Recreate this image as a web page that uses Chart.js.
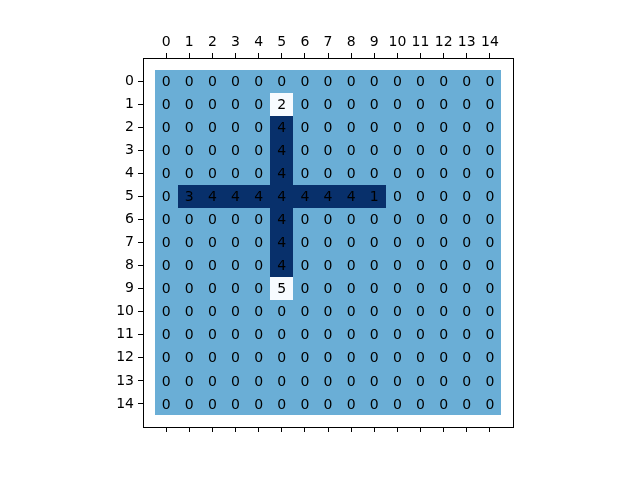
<!DOCTYPE html>
<html lang="en">
  <head>
    <meta charset="utf-8" />
    <title>Matrix</title>
    <style>
      * {
        margin: 0;
        padding: 0;
      }
      body {
        background: white;
      }
      .chartBox {
        width: 640px;
        height: 480px;
      }
    </style>
  </head>
  <body>
    <div class="chartBox">
      <canvas id="myChart" width="640" height="480"></canvas>
    </div>
    <script src="https://cdn.jsdelivr.net/npm/chart.js"></script>
    <script>
      // setup
      const colLabels = ['0', '1', '2', '3', '4', '5', '6', '7', '8', '9', '10', '11', '12', '13', '14'];
      const rowLabels = ['0', '1', '2', '3', '4', '5', '6', '7', '8', '9', '10', '11', '12', '13', '14'];
      const grid = [
        [0, 0, 0, 0, 0, 0, 0, 0, 0, 0, 0, 0, 0, 0, 0],
        [0, 0, 0, 0, 0, 2, 0, 0, 0, 0, 0, 0, 0, 0, 0],
        [0, 0, 0, 0, 0, 4, 0, 0, 0, 0, 0, 0, 0, 0, 0],
        [0, 0, 0, 0, 0, 4, 0, 0, 0, 0, 0, 0, 0, 0, 0],
        [0, 0, 0, 0, 0, 4, 0, 0, 0, 0, 0, 0, 0, 0, 0],
        [0, 3, 4, 4, 4, 4, 4, 4, 4, 1, 0, 0, 0, 0, 0],
        [0, 0, 0, 0, 0, 4, 0, 0, 0, 0, 0, 0, 0, 0, 0],
        [0, 0, 0, 0, 0, 4, 0, 0, 0, 0, 0, 0, 0, 0, 0],
        [0, 0, 0, 0, 0, 4, 0, 0, 0, 0, 0, 0, 0, 0, 0],
        [0, 0, 0, 0, 0, 5, 0, 0, 0, 0, 0, 0, 0, 0, 0],
        [0, 0, 0, 0, 0, 0, 0, 0, 0, 0, 0, 0, 0, 0, 0],
        [0, 0, 0, 0, 0, 0, 0, 0, 0, 0, 0, 0, 0, 0, 0],
        [0, 0, 0, 0, 0, 0, 0, 0, 0, 0, 0, 0, 0, 0, 0],
        [0, 0, 0, 0, 0, 0, 0, 0, 0, 0, 0, 0, 0, 0, 0],
        [0, 0, 0, 0, 0, 0, 0, 0, 0, 0, 0, 0, 0, 0, 0],
      ];

      // colour for each cell value (Blues-like)
      const cellColor = {
        0: '#6aaed6',
        1: '#08306b',
        2: '#f7fbff',
        3: '#08306b',
        4: '#08306b',
        5: '#f7fbff',
      };

      const points = [];
      grid.forEach((row, r) => {
        row.forEach((v, c) => {
          points.push({ x: c, y: r, v: v });
        });
      });

      const FONT = 'DejaVu Sans';

      // cells + numbers + frame
      const matrixPlugin = {
        id: 'matrixPlugin',
        beforeDatasetsDraw(chart) {
          const { ctx, scales: { x, y }, chartArea } = chart;
          ctx.save();
          chart.data.datasets[0].data.forEach((p) => {
            // round edges so neighbouring cells don't leave seams
            const x0 = Math.round(x.getPixelForValue(p.x - 0.5));
            const x1 = Math.round(x.getPixelForValue(p.x + 0.5));
            const y0 = Math.round(y.getPixelForValue(p.y - 0.5));
            const y1 = Math.round(y.getPixelForValue(p.y + 0.5));
            ctx.fillStyle = cellColor[p.v];
            ctx.fillRect(x0, y0, x1 - x0, y1 - y0);
          });
          ctx.fillStyle = 'black';
          ctx.font = '14px "' + FONT + '"';
          ctx.textAlign = 'center';
          ctx.textBaseline = 'middle';
          chart.data.datasets[0].data.forEach((p) => {
            ctx.fillText(String(p.v), x.getPixelForValue(p.x), y.getPixelForValue(p.y) + 1);
          });
          // frame
          ctx.strokeStyle = 'black';
          ctx.lineWidth = 1;
          ctx.strokeRect(
            Math.round(chartArea.left) + 0.5,
            Math.round(chartArea.top) + 0.5,
            Math.round(chartArea.right - chartArea.left),
            Math.round(chartArea.bottom - chartArea.top)
          );
          ctx.restore();
        },
      };

      const keepInner = (scale) => {
        scale.ticks = scale.ticks.filter((t) => t.value >= 0 && t.value <= 14);
      };

      const tickFont = { family: FONT, size: 14 };

      const config = {
        type: 'scatter',
        data: {
          datasets: [
            {
              data: points,
              pointRadius: 0,
              pointHoverRadius: 0,
            },
          ],
        },
        options: {
          responsive: false,
          animation: false,
          layout: {
            padding: { left: 0, right: 127, top: 0, bottom: 0 },
          },
          plugins: {
            legend: { display: false },
            tooltip: { enabled: false },
          },
          scales: {
            x: {
              type: 'linear',
              position: 'top',
              min: -1,
              max: 15,
              afterBuildTicks: keepInner,
              afterFit: (s) => {
                s.height = 58;
              },
              ticks: {
                stepSize: 1,
                autoSkip: false,
                maxRotation: 0,
                color: 'black',
                font: tickFont,
                padding: 2,
                callback: (v) => colLabels[v],
              },
              grid: {
                drawOnChartArea: false,
                tickLength: 5,
                tickColor: 'black',
              },
              border: { display: false },
            },
            xb: {
              type: 'linear',
              position: 'bottom',
              min: -1,
              max: 15,
              afterBuildTicks: keepInner,
              afterFit: (s) => {
                s.height = 53;
              },
              ticks: {
                stepSize: 1,
                autoSkip: false,
                callback: () => '',
              },
              grid: {
                drawOnChartArea: false,
                tickLength: 5,
                tickColor: 'black',
              },
              border: { display: false },
            },
            y: {
              type: 'linear',
              reverse: true,
              min: -1,
              max: 15,
              afterBuildTicks: keepInner,
              afterFit: (s) => {
                s.width = 143;
              },
              ticks: {
                stepSize: 1,
                autoSkip: false,
                color: 'black',
                font: tickFont,
                padding: 4,
                callback: (v) => rowLabels[v],
              },
              grid: {
                drawOnChartArea: false,
                tickLength: 5,
                tickColor: 'black',
              },
              border: { display: false },
            },
          },
        },
        plugins: [matrixPlugin],
      };

      const myChart = new Chart(document.getElementById('myChart'), config);
    </script>
  </body>
</html>
